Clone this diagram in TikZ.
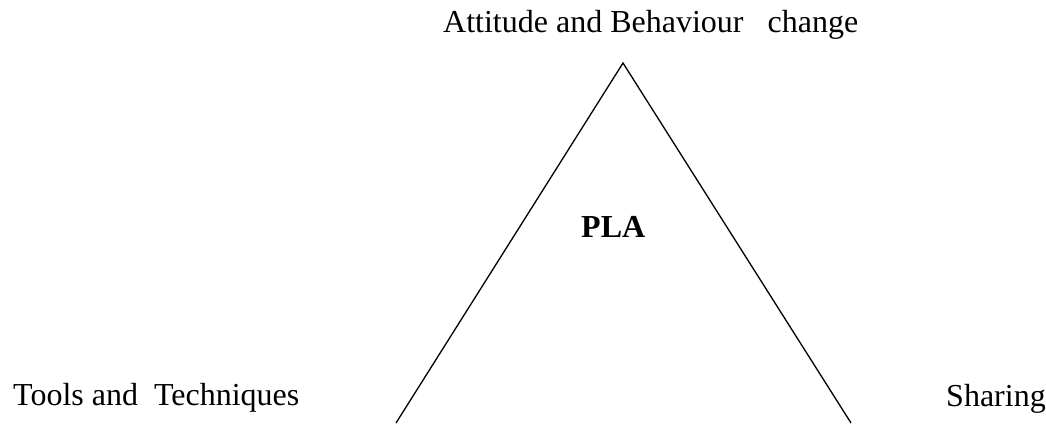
\documentclass[tikz,border=0pt]{standalone}
\usepackage{fontspec}
\setmainfont{Liberation Serif}
\begin{document}
\begin{tikzpicture}[x=1pt,y=-1pt,
  lbl/.style={inner sep=0pt,anchor=base west,font=\fontsize{32}{38}\selectfont},
  side/.style={line width=1.3pt,black}]
\useasboundingbox (0,0) rectangle (1046,423);
\coordinate (apex) at (623,63);
\coordinate (bl) at (396,423);
\coordinate (br) at (851,423);
\draw[side] (bl) -- (apex) -- (br);
\node[lbl] (top) at (443,32) {Attitude and Behaviour\ \ \ change};
\node[lbl,font=\fontsize{32}{38}\selectfont\bfseries] (pla) at (581,237) {PLA};
\node[lbl] (tools) at (13,405) {Tools and\ \ Techniques};
\node[lbl] (share) at (946,406) {Sharing};
\end{tikzpicture}
\end{document}
